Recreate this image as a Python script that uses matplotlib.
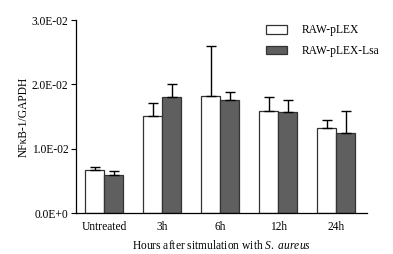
import matplotlib
matplotlib.use("Agg")
import matplotlib.pyplot as plt
import numpy as np
from matplotlib.patches import Patch

categories = ["Untreated", "3h", "6h", "12h", "24h"]
series_names = ["RAW-pLEX", "RAW-pLEX-Lsa"]
pLEX = [0.0067, 0.0151, 0.0182, 0.0159, 0.0132]
pLEX_err = [0.0004, 0.0020, 0.0078, 0.0022, 0.0012]
Lsa = [0.0059, 0.0181, 0.0175, 0.0157, 0.0125]
Lsa_err = [0.0007, 0.0020, 0.0013, 0.0019, 0.0034]
yticks = [0.0, 0.01, 0.02, 0.03]
yticklabels = ["0.0E+0", "1.0E-02", "2.0E-02", "3.0E-02"]

plt.rcParams['font.family'] = ['Liberation Serif', 'DejaVu Serif']
plt.rcParams['mathtext.fontset'] = 'custom'
plt.rcParams['mathtext.rm'] = 'Liberation Serif'
plt.rcParams['mathtext.it'] = 'Liberation Serif:italic'
fs = 8.3
fig = plt.figure(figsize=(3.93, 2.54), dpi=100)
ax = fig.add_axes([0.193, 0.161, 0.741, 0.760])

x = np.arange(len(categories))
w = 0.33
ekw = dict(elinewidth=1.0, capthick=1.0, ecolor='black')
ax.bar(x - w/2, pLEX, w, color='white', edgecolor='#333333', linewidth=0.9,
       yerr=[np.zeros(len(pLEX)), pLEX_err], capsize=3.6, error_kw=ekw, label=series_names[0])
ax.bar(x + w/2, Lsa, w, color='#5f5f5f', edgecolor='#333333', linewidth=0.9,
       yerr=[np.zeros(len(Lsa)), Lsa_err], capsize=3.6, error_kw=ekw, label=series_names[1])

ax.set_xlim(-0.49, 4.53)
ax.set_ylim(0, 0.03)
ax.set_yticks(yticks)
ax.set_yticklabels(yticklabels, fontsize=fs)
ax.set_xticks(x)
ax.set_xticklabels(categories, fontsize=fs)
ax.tick_params(axis='x', length=0, pad=6)
ax.tick_params(axis='y', length=3.5, width=0.8, direction='out', pad=2)
for s in ['top', 'right']:
    ax.spines[s].set_visible(False)
for s in ['left', 'bottom']:
    ax.spines[s].set_linewidth(0.9)

ax.set_ylabel("NFκB-1/GAPDH", fontsize=fs, labelpad=1)
ax.set_xlabel("Hours after sitmulation with $\\it{S.\\ aureus}$", fontsize=fs, labelpad=4)

handles = [Patch(facecolor='white', edgecolor='#333333', linewidth=0.9),
           Patch(facecolor='#5f5f5f', edgecolor='#333333', linewidth=0.9)]
fig.legend(handles, series_names, loc='upper left', bbox_to_anchor=(0.65, 0.945),
           frameon=False, fontsize=fs, handlelength=1.8, handleheight=0.8,
           labelspacing=0.75, handletextpad=1.3)

fig.savefig("out.png", dpi=100)
